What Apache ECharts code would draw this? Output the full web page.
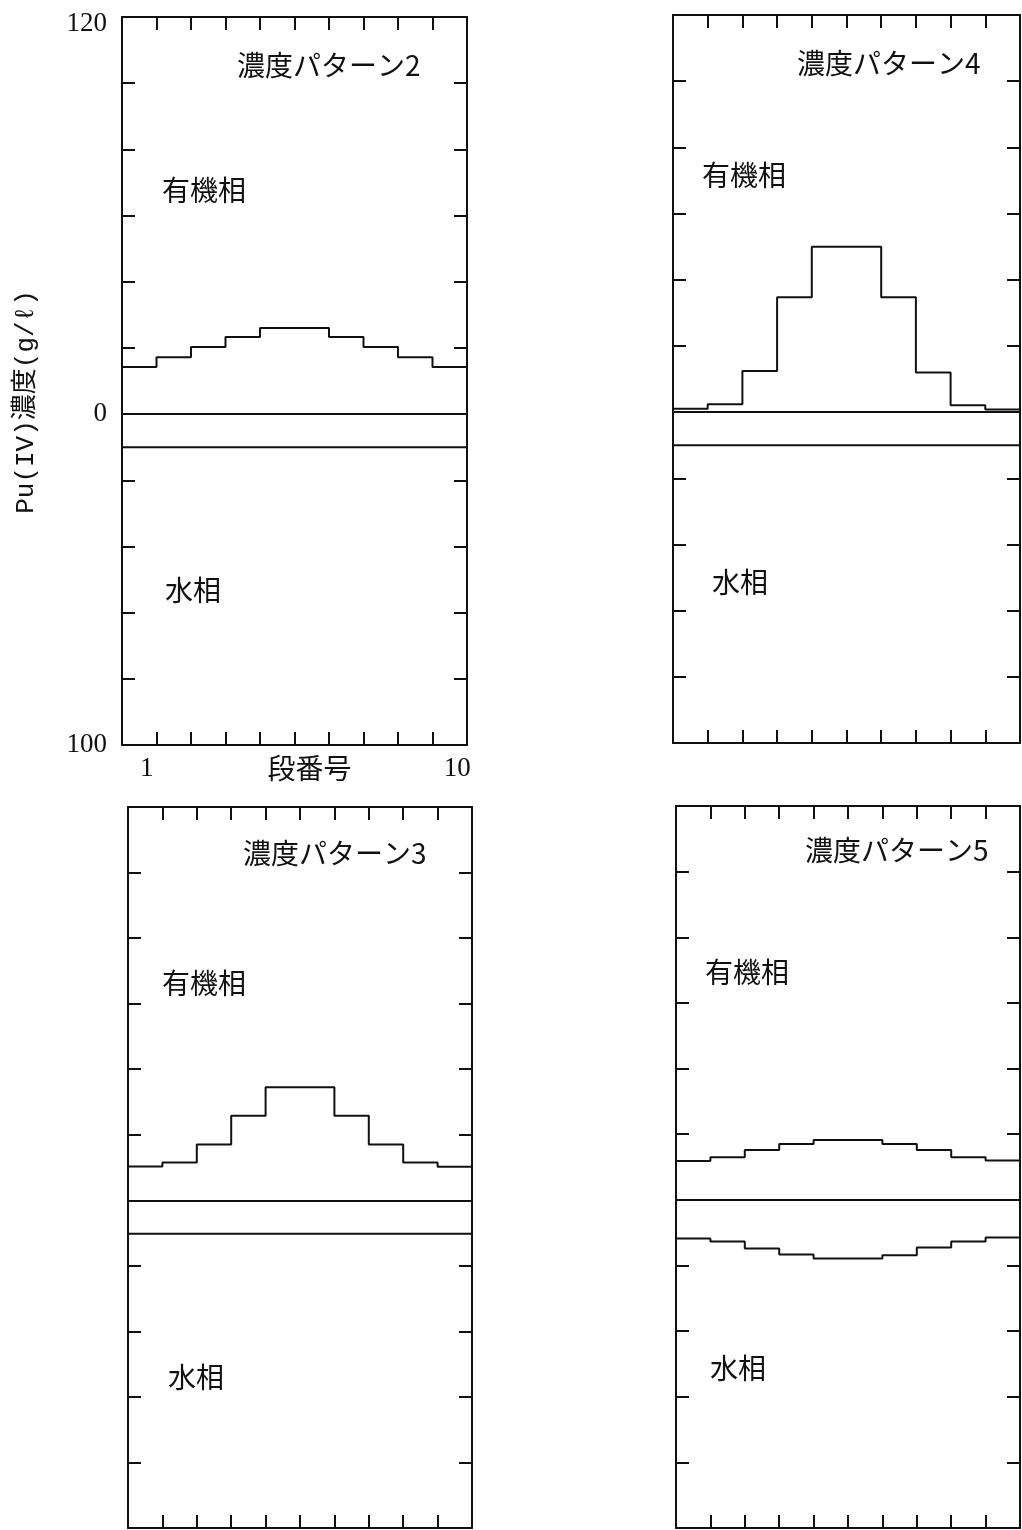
<!DOCTYPE html>
<html lang="ja">
<head>
<meta charset="utf-8">
<title>Pu(IV)濃度パターン</title>
<script src="https://cdn.jsdelivr.net/npm/echarts@6/dist/echarts.min.js"></script>
<style>
  html, body { margin: 0; padding: 0; background: #ffffff; }
  #chart { width: 1022px; height: 1530px; }
</style>
</head>
<body>
<div id="chart"></div>
<script>
// stage numbers (段番号) and the labelled y ticks
const STAGES = ["1", "2", "3", "4", "5", "6", "7", "8", "9", "10"];
const Y_LABELS = { "120": "120", "0": "0", "-100": "100" };

// Pu(IV) concentration, g/l, per stage (organic above 0, aqueous drawn below 0)
const ORGANIC_2 = [14.2, 17.2, 20.3, 23.3, 26.0, 26.0, 23.3, 20.3, 17.2, 14.2];
const AQUEOUS_2 = [10.0, 10.0, 10.0, 10.0, 10.0, 10.0, 10.0, 10.0, 10.0, 10.0];

const ORGANIC_4 = [1.0, 2.4, 12.4, 34.7, 50.0, 50.0, 34.7, 12.0, 2.1, 0.8];
const AQUEOUS_4 = [10.0, 10.0, 10.0, 10.0, 10.0, 10.0, 10.0, 10.0, 10.0, 10.0];

const ORGANIC_3 = [10.3, 11.5, 17.0, 25.8, 34.5, 34.5, 25.8, 17.0, 11.5, 10.2];
const AQUEOUS_3 = [10.2, 10.2, 10.2, 10.2, 10.2, 10.2, 10.2, 10.2, 10.2, 10.2];

const ORGANIC_5 = [11.8, 13.0, 15.2, 17.0, 18.2, 18.2, 17.0, 15.2, 13.0, 12.0];
const AQUEOUS_5 = [11.8, 12.7, 14.8, 16.7, 17.9, 17.9, 16.9, 14.5, 12.7, 11.5];

const INK = "#111111";
const CJK = '"Noto Sans CJK JP", "Noto Sans CJK SC", sans-serif';
const NUM = '"Liberation Serif", "DejaVu Serif", serif';

const PANELS = [
  { title: "濃度パターン2", organic: ORGANIC_2, aqueous: AQUEOUS_2, box: [122, 17, 345, 728], labels: true,
    titleAt: [237, 65], orgAt: [162, 190], aqAt: [165, 590] },
  { title: "濃度パターン4", organic: ORGANIC_4, aqueous: AQUEOUS_4, box: [673, 15, 347, 728], labels: false,
    titleAt: [797, 63], orgAt: [702, 175], aqAt: [712, 582] },
  { title: "濃度パターン3", organic: ORGANIC_3, aqueous: AQUEOUS_3, box: [128, 807, 344, 721], labels: false,
    titleAt: [243, 853], orgAt: [162, 983], aqAt: [168, 1377] },
  { title: "濃度パターン5", organic: ORGANIC_5, aqueous: AQUEOUS_5, box: [676, 806, 344, 722], labels: false,
    titleAt: [805, 850], orgAt: [705, 972], aqAt: [710, 1368] },
];

// each stage spans [k, k+1] on the hidden x axis; the last value is held to the right border
function stepData(values, sign) {
  const pts = values.map((v, k) => [k, sign * v]);
  pts.push([values.length, sign * values[values.length - 1]]);
  return pts;
}

const axisLine = { show: true, onZero: false, lineStyle: { color: INK, width: 2 } };
const axisTick = { show: true, inside: true, length: 13, lineStyle: { color: INK, width: 2 } };

const grid = [];
const xAxis = [];
const yAxis = [];
const series = [];
const graphic = [];

PANELS.forEach((p, i) => {
  grid.push({
    left: p.box[0], top: p.box[1], width: p.box[2], height: p.box[3],
    containLabel: false, outerBoundsMode: "none",
  });

  const xBase = xAxis.length;
  ["bottom", "top"].forEach((pos) => {
    xAxis.push({
      gridIndex: i, type: "value", position: pos, min: 0, max: STAGES.length, interval: 1,
      axisLine, axisTick, axisLabel: { show: false }, splitLine: { show: false },
    });
  });
  xAxis.push({
    gridIndex: i, type: "category", position: "bottom", data: STAGES, boundaryGap: true,
    axisLine: { show: false, onZero: false }, axisTick: { show: false }, splitLine: { show: false },
    axisLabel: {
      show: p.labels,
      interval: (idx) => idx === 0 || idx === STAGES.length - 1,
      margin: 10, color: INK, fontSize: 27, fontFamily: NUM, padding: [0, 0, 0, 15],
    },
    name: p.labels ? "段番号" : "",
    nameLocation: "middle", nameGap: 9, nameMoveOverlap: false,
    nameTextStyle: { color: INK, fontSize: 28, fontFamily: CJK, padding: [0, 0, 0, 30] },
  });

  const yBase = yAxis.length;
  ["left", "right"].forEach((pos) => {
    yAxis.push({
      gridIndex: i, type: "value", position: pos, min: -100, max: 120, interval: 20,
      axisLine, axisTick, splitLine: { show: false },
      axisLabel: {
        show: p.labels && pos === "left",
        margin: 15, color: INK, fontSize: 27, fontFamily: NUM,
        formatter: (v) => (v === 120 ? "{t|120}" : (Y_LABELS[String(v)] || "")),
        rich: { t: { padding: [14, 0, 0, 0], fontSize: 27, fontFamily: NUM, color: INK } },
      },
    });
  });

  series.push({
    name: p.title + " 有機相", type: "line", xAxisIndex: xBase, yAxisIndex: yBase,
    step: "end", symbol: "none", data: stepData(p.organic, 1),
    lineStyle: { color: INK, width: 2 }, itemStyle: { color: INK },
    markLine: {
      silent: true, symbol: ["none", "none"], label: { show: false },
      lineStyle: { color: INK, width: 2, type: "solid" },
      data: [{ yAxis: 0 }],
    },
  });
  series.push({
    name: p.title + " 水相", type: "line", xAxisIndex: xBase, yAxisIndex: yBase,
    step: "end", symbol: "none", data: stepData(p.aqueous, -1),
    lineStyle: { color: INK, width: 2 }, itemStyle: { color: INK },
  });

  [[p.title, p.titleAt], ["有機相", p.orgAt], ["水相", p.aqAt]].forEach(([text, at]) => {
    graphic.push({
      type: "text", x: at[0], y: at[1], silent: true,
      style: { text, fill: INK, font: `28px ${CJK}`, align: "left", verticalAlign: "middle" },
    });
  });
});

graphic.push({
  type: "text", x: 26, y: 402, rotation: Math.PI / 2, silent: true,
  style: {
    text: "Pu(IV)濃度(g/ℓ)", fill: INK,
    font: `26px "Liberation Mono", "Noto Sans CJK JP", monospace`,
    align: "center", verticalAlign: "middle",
  },
});

const chart = echarts.init(document.getElementById("chart"), null, { renderer: "canvas" });
chart.setOption({
  animation: false,
  backgroundColor: "#ffffff",
  grid, xAxis, yAxis, series, graphic,
});
</script>
</body>
</html>
